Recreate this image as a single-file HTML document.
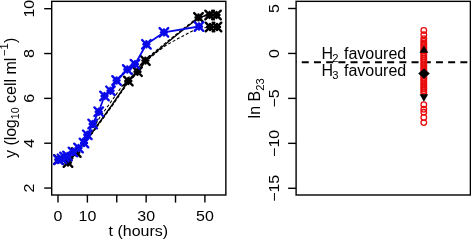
<!DOCTYPE html><html><head><meta charset="utf-8"><style>html,body{margin:0;padding:0;background:#fff;width:471px;height:240px;overflow:hidden}svg{display:block}text{font-family:"Liberation Sans", Arial, Helvetica, sans-serif;fill:#000}</style></head><body>
<svg width="471" height="240" viewBox="0 0 471 240">
<rect width="471" height="240" fill="#fff"/>
<g>
<clipPath id="c1"><rect x="51.7" y="1.35" width="174.14999999999998" height="193.65"/></clipPath>
<g clip-path="url(#c1)">
<polyline points="58.50,158.50 67.50,159.50 77.00,150.50 90.00,133.50 100.00,117.00 110.50,102.50 120.00,89.00 128.30,78.00 137.50,68.50 145.40,59.20 165.00,43.40 181.00,30.40 192.00,22.00 198.50,16.60 209.60,14.40 216.50,14.40" fill="none" stroke="#000" stroke-width="1.1" stroke-dasharray="3 2" stroke-linejoin="round"/>
<polyline points="58.50,160.00 67.50,161.50 77.00,152.50 90.00,136.50 112.00,106.20 128.30,82.30 137.50,73.00 145.40,61.80 158.00,51.20 166.00,45.40 178.00,38.60 185.00,35.00 190.50,31.90 198.50,28.20 210.00,27.30 217.00,27.30" fill="none" stroke="#000" stroke-width="1.1" stroke-dasharray="3 2" stroke-linejoin="round"/>
<polyline points="58.50,159.50 68.00,162.50 76.30,152.50 90.00,135.50 112.00,105.00 128.30,81.00 137.50,71.70 145.40,60.60 165.00,44.50 181.00,31.50 192.00,23.00 198.50,17.40 209.60,15.00 216.50,15.00" fill="none" stroke="#000" stroke-width="1.4" stroke-linejoin="round"/>
<path d="M55.50 159.50H61.50M58.50 156.50V162.50M54.20 155.20L62.80 163.80M54.20 163.80L62.80 155.20" stroke="#000" stroke-width="2.4" stroke-linecap="round" fill="none"/>
<path d="M65.00 162.50H71.00M68.00 159.50V165.50M63.70 158.20L72.30 166.80M63.70 166.80L72.30 158.20" stroke="#000" stroke-width="2.4" stroke-linecap="round" fill="none"/>
<path d="M73.30 152.50H79.30M76.30 149.50V155.50M72.00 148.20L80.60 156.80M72.00 156.80L80.60 148.20" stroke="#000" stroke-width="2.4" stroke-linecap="round" fill="none"/>
<path d="M125.30 81.00H131.30M128.30 78.00V84.00M124.00 76.70L132.60 85.30M124.00 85.30L132.60 76.70" stroke="#000" stroke-width="2.4" stroke-linecap="round" fill="none"/>
<path d="M134.50 71.70H140.50M137.50 68.70V74.70M133.20 67.40L141.80 76.00M133.20 76.00L141.80 67.40" stroke="#000" stroke-width="2.4" stroke-linecap="round" fill="none"/>
<path d="M142.40 60.60H148.40M145.40 57.60V63.60M141.10 56.30L149.70 64.90M141.10 64.90L149.70 56.30" stroke="#000" stroke-width="2.4" stroke-linecap="round" fill="none"/>
<path d="M195.50 17.40H201.50M198.50 14.40V20.40M194.20 13.10L202.80 21.70M194.20 21.70L202.80 13.10" stroke="#000" stroke-width="2.4" stroke-linecap="round" fill="none"/>
<path d="M206.60 15.00H212.60M209.60 12.00V18.00M205.30 10.70L213.90 19.30M205.30 19.30L213.90 10.70" stroke="#000" stroke-width="2.4" stroke-linecap="round" fill="none"/>
<path d="M213.50 15.00H219.50M216.50 12.00V18.00M212.20 10.70L220.80 19.30M212.20 19.30L220.80 10.70" stroke="#000" stroke-width="2.4" stroke-linecap="round" fill="none"/>
<path d="M207.00 27.00H213.00M210.00 24.00V30.00M205.70 22.70L214.30 31.30M205.70 31.30L214.30 22.70" stroke="#000" stroke-width="2.4" stroke-linecap="round" fill="none"/>
<path d="M214.00 27.00H220.00M217.00 24.00V30.00M212.70 22.70L221.30 31.30M212.70 31.30L221.30 22.70" stroke="#000" stroke-width="2.4" stroke-linecap="round" fill="none"/>
<polyline points="58.50,159.80 62.00,158.80 67.50,156.00 73.00,152.00 78.50,148.00 84.00,143.00 87.30,134.80 92.70,124.00 98.70,111.70 104.50,96.00 110.50,90.80 116.60,80.50 127.30,69.50 135.00,64.20 146.40,44.30 163.90,32.40 199.00,26.50" fill="none" stroke="#0a0ae8" stroke-width="1.8" stroke-linejoin="round"/>
<path d="M55.50 159.80H61.50M58.50 156.80V162.80M54.20 155.50L62.80 164.10M54.20 164.10L62.80 155.50" stroke="#0a0ae8" stroke-width="2.4" stroke-linecap="round" fill="none"/>
<path d="M59.00 158.80H65.00M62.00 155.80V161.80M57.70 154.50L66.30 163.10M57.70 163.10L66.30 154.50" stroke="#0a0ae8" stroke-width="2.4" stroke-linecap="round" fill="none"/>
<path d="M64.50 156.00H70.50M67.50 153.00V159.00M63.20 151.70L71.80 160.30M63.20 160.30L71.80 151.70" stroke="#0a0ae8" stroke-width="2.4" stroke-linecap="round" fill="none"/>
<path d="M70.00 152.00H76.00M73.00 149.00V155.00M68.70 147.70L77.30 156.30M68.70 156.30L77.30 147.70" stroke="#0a0ae8" stroke-width="2.4" stroke-linecap="round" fill="none"/>
<path d="M75.50 148.00H81.50M78.50 145.00V151.00M74.20 143.70L82.80 152.30M74.20 152.30L82.80 143.70" stroke="#0a0ae8" stroke-width="2.4" stroke-linecap="round" fill="none"/>
<path d="M81.00 143.00H87.00M84.00 140.00V146.00M79.70 138.70L88.30 147.30M79.70 147.30L88.30 138.70" stroke="#0a0ae8" stroke-width="2.4" stroke-linecap="round" fill="none"/>
<path d="M84.30 134.80H90.30M87.30 131.80V137.80M83.00 130.50L91.60 139.10M83.00 139.10L91.60 130.50" stroke="#0a0ae8" stroke-width="2.4" stroke-linecap="round" fill="none"/>
<path d="M89.70 124.00H95.70M92.70 121.00V127.00M88.40 119.70L97.00 128.30M88.40 128.30L97.00 119.70" stroke="#0a0ae8" stroke-width="2.4" stroke-linecap="round" fill="none"/>
<path d="M95.70 111.70H101.70M98.70 108.70V114.70M94.40 107.40L103.00 116.00M94.40 116.00L103.00 107.40" stroke="#0a0ae8" stroke-width="2.4" stroke-linecap="round" fill="none"/>
<path d="M101.50 96.00H107.50M104.50 93.00V99.00M100.20 91.70L108.80 100.30M100.20 100.30L108.80 91.70" stroke="#0a0ae8" stroke-width="2.4" stroke-linecap="round" fill="none"/>
<path d="M107.50 90.80H113.50M110.50 87.80V93.80M106.20 86.50L114.80 95.10M106.20 95.10L114.80 86.50" stroke="#0a0ae8" stroke-width="2.4" stroke-linecap="round" fill="none"/>
<path d="M113.60 80.50H119.60M116.60 77.50V83.50M112.30 76.20L120.90 84.80M112.30 84.80L120.90 76.20" stroke="#0a0ae8" stroke-width="2.4" stroke-linecap="round" fill="none"/>
<path d="M124.30 69.50H130.30M127.30 66.50V72.50M123.00 65.20L131.60 73.80M123.00 73.80L131.60 65.20" stroke="#0a0ae8" stroke-width="2.4" stroke-linecap="round" fill="none"/>
<path d="M132.00 64.20H138.00M135.00 61.20V67.20M130.70 59.90L139.30 68.50M130.70 68.50L139.30 59.90" stroke="#0a0ae8" stroke-width="2.4" stroke-linecap="round" fill="none"/>
<path d="M143.40 44.30H149.40M146.40 41.30V47.30M142.10 40.00L150.70 48.60M142.10 48.60L150.70 40.00" stroke="#0a0ae8" stroke-width="2.4" stroke-linecap="round" fill="none"/>
<path d="M160.90 32.40H166.90M163.90 29.40V35.40M159.60 28.10L168.20 36.70M159.60 36.70L168.20 28.10" stroke="#0a0ae8" stroke-width="2.4" stroke-linecap="round" fill="none"/>
<path d="M196.00 26.50H202.00M199.00 23.50V29.50M194.70 22.20L203.30 30.80M194.70 30.80L203.30 22.20" stroke="#0a0ae8" stroke-width="2.4" stroke-linecap="round" fill="none"/>
<path d="M61.50 157.00H67.50M64.50 154.00V160.00M60.20 152.70L68.80 161.30M60.20 161.30L68.80 152.70" stroke="#0a0ae8" stroke-width="2.4" stroke-linecap="round" fill="none"/>
</g>
<rect x="51.7" y="1.35" width="174.14999999999998" height="193.65" fill="none" stroke="#000" stroke-width="1.4"/>
<line x1="44.2" y1="188.06" x2="51.7" y2="188.06" stroke="#000" stroke-width="1.4"/>
<text transform="translate(34.1 188.06) rotate(-90) scale(1 0.88)" text-anchor="middle" font-size="16">2</text>
<line x1="44.2" y1="143.22" x2="51.7" y2="143.22" stroke="#000" stroke-width="1.4"/>
<text transform="translate(34.1 143.22) rotate(-90) scale(1 0.88)" text-anchor="middle" font-size="16">4</text>
<line x1="44.2" y1="98.38" x2="51.7" y2="98.38" stroke="#000" stroke-width="1.4"/>
<text transform="translate(34.1 98.38) rotate(-90) scale(1 0.88)" text-anchor="middle" font-size="16">6</text>
<line x1="44.2" y1="53.54" x2="51.7" y2="53.54" stroke="#000" stroke-width="1.4"/>
<text transform="translate(34.1 53.54) rotate(-90) scale(1 0.88)" text-anchor="middle" font-size="16">8</text>
<line x1="44.2" y1="8.70" x2="51.7" y2="8.70" stroke="#000" stroke-width="1.4"/>
<text transform="translate(34.1 8.70) rotate(-90) scale(1 0.88)" text-anchor="middle" font-size="16">10</text>
<line x1="58.00" y1="195.0" x2="58.00" y2="202.6" stroke="#000" stroke-width="1.4"/>
<line x1="87.38" y1="195.0" x2="87.38" y2="202.6" stroke="#000" stroke-width="1.4"/>
<line x1="116.76" y1="195.0" x2="116.76" y2="202.6" stroke="#000" stroke-width="1.4"/>
<line x1="146.14" y1="195.0" x2="146.14" y2="202.6" stroke="#000" stroke-width="1.4"/>
<line x1="175.52" y1="195.0" x2="175.52" y2="202.6" stroke="#000" stroke-width="1.4"/>
<line x1="204.90" y1="195.0" x2="204.90" y2="202.6" stroke="#000" stroke-width="1.4"/>
<text transform="translate(58.00 220.9) scale(1 0.93)" text-anchor="middle" font-size="16">0</text>
<text transform="translate(87.38 220.9) scale(1 0.93)" text-anchor="middle" font-size="16">10</text>
<text transform="translate(146.14 220.9) scale(1 0.93)" text-anchor="middle" font-size="16">30</text>
<text transform="translate(204.90 220.9) scale(1 0.93)" text-anchor="middle" font-size="16">50</text>
<text transform="translate(138.3 236.3) scale(1 0.93)" text-anchor="middle" font-size="16">t (hours)</text>
<text transform="translate(15.6 97.8) rotate(-90)" text-anchor="middle" font-size="16">y (lo<tspan dx="-0.4">g</tspan><tspan font-size="10.6" dy="3.4">10</tspan><tspan dy="-3.4"> cell ml</tspan><tspan font-size="11.20" dy="-7.5" dx="1.6">−1</tspan><tspan dy="7.5" dx="0.4">)</tspan></text>
</g>
<clipPath id="c2"><rect x="296.1" y="1.35" width="174.29999999999995" height="193.65"/></clipPath>
<g clip-path="url(#c2)">
<line x1="296.1" y1="62.2" x2="470.4" y2="62.2" stroke="#000" stroke-width="2.1" stroke-dasharray="7 5.2" stroke-dashoffset="-5.65"/>
<circle cx="423.8" cy="30.50" r="2.8" fill="none" stroke="#e80c0c" stroke-width="1.3"/>
<circle cx="423.8" cy="34.80" r="2.8" fill="none" stroke="#e80c0c" stroke-width="1.3"/>
<circle cx="423.8" cy="38.75" r="2.8" fill="none" stroke="#e80c0c" stroke-width="1.3"/>
<circle cx="423.8" cy="41.30" r="2.8" fill="none" stroke="#e80c0c" stroke-width="1.3"/>
<circle cx="423.8" cy="43.20" r="2.8" fill="none" stroke="#e80c0c" stroke-width="1.3"/>
<circle cx="423.8" cy="45.10" r="2.8" fill="none" stroke="#e80c0c" stroke-width="1.3"/>
<circle cx="423.8" cy="47.00" r="2.8" fill="none" stroke="#e80c0c" stroke-width="1.3"/>
<circle cx="423.8" cy="48.90" r="2.8" fill="none" stroke="#e80c0c" stroke-width="1.3"/>
<circle cx="423.8" cy="50.80" r="2.8" fill="none" stroke="#e80c0c" stroke-width="1.3"/>
<circle cx="423.8" cy="52.70" r="2.8" fill="none" stroke="#e80c0c" stroke-width="1.3"/>
<circle cx="423.8" cy="54.60" r="2.8" fill="none" stroke="#e80c0c" stroke-width="1.3"/>
<circle cx="423.8" cy="56.50" r="2.8" fill="none" stroke="#e80c0c" stroke-width="1.3"/>
<circle cx="423.8" cy="58.40" r="2.8" fill="none" stroke="#e80c0c" stroke-width="1.3"/>
<circle cx="423.8" cy="60.30" r="2.8" fill="none" stroke="#e80c0c" stroke-width="1.3"/>
<circle cx="423.8" cy="62.20" r="2.8" fill="none" stroke="#e80c0c" stroke-width="1.3"/>
<circle cx="423.8" cy="64.10" r="2.8" fill="none" stroke="#e80c0c" stroke-width="1.3"/>
<circle cx="423.8" cy="66.00" r="2.8" fill="none" stroke="#e80c0c" stroke-width="1.3"/>
<circle cx="423.8" cy="67.90" r="2.8" fill="none" stroke="#e80c0c" stroke-width="1.3"/>
<circle cx="423.8" cy="69.80" r="2.8" fill="none" stroke="#e80c0c" stroke-width="1.3"/>
<circle cx="423.8" cy="71.70" r="2.8" fill="none" stroke="#e80c0c" stroke-width="1.3"/>
<circle cx="423.8" cy="73.60" r="2.8" fill="none" stroke="#e80c0c" stroke-width="1.3"/>
<circle cx="423.8" cy="75.50" r="2.8" fill="none" stroke="#e80c0c" stroke-width="1.3"/>
<circle cx="423.8" cy="77.40" r="2.8" fill="none" stroke="#e80c0c" stroke-width="1.3"/>
<circle cx="423.8" cy="79.30" r="2.8" fill="none" stroke="#e80c0c" stroke-width="1.3"/>
<circle cx="423.8" cy="81.20" r="2.8" fill="none" stroke="#e80c0c" stroke-width="1.3"/>
<circle cx="423.8" cy="83.10" r="2.8" fill="none" stroke="#e80c0c" stroke-width="1.3"/>
<circle cx="423.8" cy="85.00" r="2.8" fill="none" stroke="#e80c0c" stroke-width="1.3"/>
<circle cx="423.8" cy="86.90" r="2.8" fill="none" stroke="#e80c0c" stroke-width="1.3"/>
<circle cx="423.8" cy="88.80" r="2.8" fill="none" stroke="#e80c0c" stroke-width="1.3"/>
<circle cx="423.8" cy="90.70" r="2.8" fill="none" stroke="#e80c0c" stroke-width="1.3"/>
<circle cx="423.8" cy="92.60" r="2.8" fill="none" stroke="#e80c0c" stroke-width="1.3"/>
<circle cx="423.8" cy="104.70" r="2.8" fill="none" stroke="#e80c0c" stroke-width="1.3"/>
<circle cx="423.8" cy="109.30" r="2.8" fill="none" stroke="#e80c0c" stroke-width="1.3"/>
<circle cx="423.8" cy="112.30" r="2.8" fill="none" stroke="#e80c0c" stroke-width="1.3"/>
<circle cx="423.8" cy="117.50" r="2.8" fill="none" stroke="#e80c0c" stroke-width="1.3"/>
<circle cx="423.8" cy="122.60" r="2.8" fill="none" stroke="#e80c0c" stroke-width="1.3"/>
<path d="M423.9 45.8L428.3 52.8H419.5Z" fill="#000"/>
<path d="M424 68.4L429.8 73.6L424 78.8L418.2 73.6Z" fill="#000"/>
<path d="M423.9 101.8L428.2 94.3H419.6Z" fill="#000"/>
</g>
<rect x="296.1" y="1.35" width="174.29999999999995" height="193.65" fill="none" stroke="#000" stroke-width="1.4"/>
<line x1="288.1" y1="8.49" x2="296.1" y2="8.49" stroke="#000" stroke-width="1.4"/>
<text transform="translate(279.1 8.49) rotate(-90) scale(1 0.88)" text-anchor="middle" font-size="16">5</text>
<line x1="288.1" y1="53.44" x2="296.1" y2="53.44" stroke="#000" stroke-width="1.4"/>
<text transform="translate(279.1 53.44) rotate(-90) scale(1 0.88)" text-anchor="middle" font-size="16">0</text>
<line x1="288.1" y1="98.39" x2="296.1" y2="98.39" stroke="#000" stroke-width="1.4"/>
<text transform="translate(279.1 98.39) rotate(-90) scale(1 0.88)" text-anchor="middle" font-size="16">−5</text>
<line x1="288.1" y1="143.34" x2="296.1" y2="143.34" stroke="#000" stroke-width="1.4"/>
<text transform="translate(279.1 143.34) rotate(-90) scale(1 0.88)" text-anchor="middle" font-size="16">−10</text>
<line x1="288.1" y1="188.29" x2="296.1" y2="188.29" stroke="#000" stroke-width="1.4"/>
<text transform="translate(279.1 188.29) rotate(-90) scale(1 0.88)" text-anchor="middle" font-size="16">−15</text>
<text transform="translate(260.3 98.4) rotate(-90)" text-anchor="middle" font-size="16">ln B<tspan font-size="11.20" dy="3.5">23</tspan></text>
<text x="321.6" y="58.5" font-size="16">H<tspan font-size="11.20" dy="3.2" dx="-0.8">2</tspan><tspan dy="-3.2" dx="0.9"> favoured</tspan></text>
<text x="321.6" y="75.6" font-size="16">H<tspan font-size="11.20" dy="3.2" dx="-0.8">3</tspan><tspan dy="-3.2" dx="0.9"> favoured</tspan></text>
</svg></body></html>
